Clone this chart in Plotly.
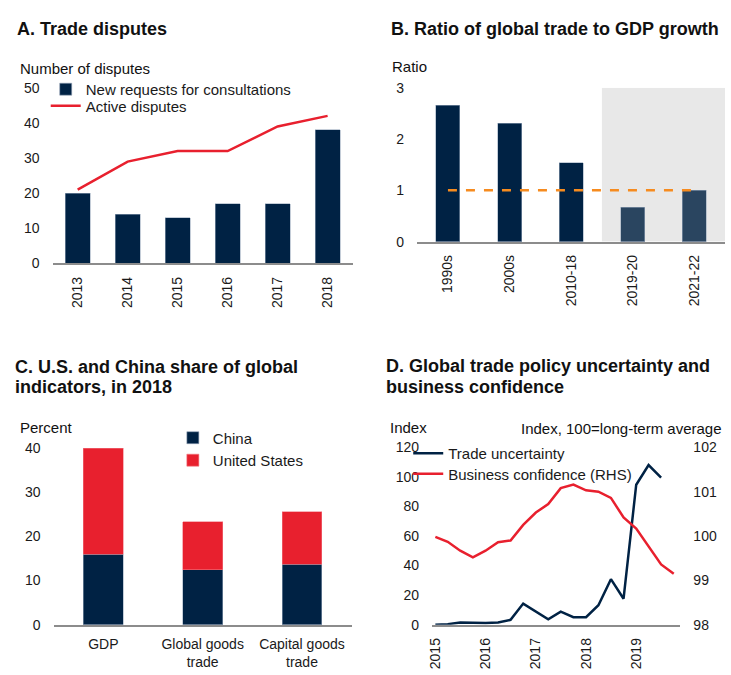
import plotly.graph_objects as go

# ---------------- data ----------------
# A. Trade disputes
dispute_years = ["2013", "2014", "2015", "2016", "2017", "2018"]
new_requests = [20, 14, 13, 17, 17, 38]
active_disputes = [21, 29, 32, 32, 39, 42]

# B. Ratio of global trade to GDP growth
periods = ["1990s", "2000s", "2010-18", "2019-20", "2021-22"]
trade_gdp_ratio = [2.66, 2.31, 1.54, 0.67, 1.0]
reference_ratio = [1, 1]

# C. U.S. and China share of global indicators, 2018
indicators = ["GDP", "Global goods<br>trade", "Capital goods<br>trade"]
china_share = [16.0, 12.5, 13.7]
us_share = [23.9, 10.8, 11.9]

# D. Trade policy uncertainty and business confidence (quarterly)
quarters = [
    "2015-01-01", "2015-04-01", "2015-07-01", "2015-10-01",
    "2016-01-01", "2016-04-01", "2016-07-01", "2016-10-01",
    "2017-01-01", "2017-04-01", "2017-07-01", "2017-10-01",
    "2018-01-01", "2018-04-01", "2018-07-01", "2018-10-01",
    "2019-01-01", "2019-04-01", "2019-07-01", "2019-10-01",
]
trade_uncertainty = [0, 0.4, 1.5, 1.3, 1.1, 1.5, 3.3, 14.3, 8.8, 3.7,
                     8.8, 5.1, 5.1, 13.2, 30.8, 17.6, 94.7, 108, 99.5]
business_confidence = [99.98, 99.87, 99.67, 99.52, 99.67, 99.86, 99.90, 100.25,
                       100.53, 100.72, 101.08, 101.16, 101.03, 101.0, 100.86,
                       100.42, 100.17, 99.76, 99.36, 99.15]
year_ticks = ["2015-01-01", "2016-01-01", "2017-01-01", "2018-01-01", "2019-01-01"]

# ---------------- styling ----------------
W, H = 731, 675

NAVY = "#002244"
SLATE = "#2a4560"
RED = "#e8202e"
ORANGE = "#f68b1f"
SHADE = "#e8e8e8"
AXIS = "#8c8c8c"
TXT = "#1a1a1a"
FONT = "Liberation Sans, Arial, sans-serif"


# layout positions below are given in pixels from the top-left corner
def px_x(v):
    return min(1.0, max(0.0, v / W))


def px_y(v):
    return min(1.0, max(0.0, 1 - v / H))


def xdom(l, r):
    return [px_x(l), px_x(r)]


def ydom(top, bottom):
    return [px_y(bottom), px_y(top)]


bar_line = dict(color="rgba(150,165,185,0.7)", width=0.8)

fig = go.Figure()

# A
fig.add_trace(go.Bar(x=dispute_years, y=new_requests, name="New requests for consultations",
                     marker=dict(color=NAVY, line=bar_line), width=0.5,
                     xaxis="x", yaxis="y", legend="legend"))
fig.add_trace(go.Scatter(x=dispute_years, y=active_disputes, name="Active disputes",
                         mode="lines", line=dict(color=RED, width=2.5),
                         xaxis="x", yaxis="y", legend="legend2"))

# B
fig.add_trace(go.Bar(x=periods, y=trade_gdp_ratio, showlegend=False,
                     marker=dict(color=[NAVY, NAVY, NAVY, SLATE, SLATE], line=bar_line),
                     width=0.39, xaxis="x2", yaxis="y2"))
fig.add_trace(go.Scatter(x=[periods[0], periods[-1]], y=reference_ratio, showlegend=False,
                         mode="lines", line=dict(color=ORANGE, width=2.5, dash="dash"),
                         xaxis="x2", yaxis="y2"))

# C
fig.add_trace(go.Bar(x=indicators, y=china_share, name="China",
                     marker=dict(color=NAVY, line=bar_line), width=0.4,
                     xaxis="x3", yaxis="y3", legend="legend3"))
fig.add_trace(go.Bar(x=indicators, y=us_share, name="United States",
                     marker=dict(color=RED, line=dict(color="rgba(240,120,130,0.7)", width=0.8)),
                     width=0.4, xaxis="x3", yaxis="y3", legend="legend4"))

# D
fig.add_trace(go.Scatter(x=quarters[:len(trade_uncertainty)], y=trade_uncertainty,
                         name="Trade uncertainty", mode="lines",
                         line=dict(color=NAVY, width=2.5),
                         xaxis="x4", yaxis="y4", legend="legend5"))
fig.add_trace(go.Scatter(x=quarters, y=business_confidence,
                         name="Business confidence (RHS)", mode="lines",
                         line=dict(color=RED, width=2.5),
                         xaxis="x4", yaxis="y5", legend="legend6"))

tick_font = dict(family=FONT, size=14, color=TXT)
xcommon = dict(showgrid=False, zeroline=False, showline=True, linecolor=AXIS, linewidth=1.5,
               ticks="", tickfont=tick_font, fixedrange=True)
ycommon = dict(showgrid=False, zeroline=False, showline=False, ticks="",
               tickfont=tick_font, ticklabelstandoff=12, fixedrange=True)


def legend_at(text_left, row_center):
    # one entry per legend box so every row can be placed on its own
    return dict(x=px_x(text_left - 40), y=px_y(row_center - 16.5),
                xanchor="left", yanchor="top", itemwidth=30,
                font=dict(family=FONT, size=15, color=TXT),
                bgcolor="rgba(0,0,0,0)", borderwidth=0)


fig.update_layout(
    width=W, height=H, margin=dict(l=0, r=0, t=0, b=0),
    paper_bgcolor="white", plot_bgcolor="white",
    font=dict(family=FONT, size=15, color=TXT),
    barmode="stack",
    xaxis=dict(domain=xdom(48, 350), anchor="y", tickangle=-90, range=[-0.5, 5.5],
               ticklabelstandoff=6, **xcommon),
    yaxis=dict(domain=ydom(81.7, 261.7), anchor="x", range=[0, 50], dtick=10, **ycommon),
    xaxis2=dict(domain=xdom(415, 725), anchor="y2", tickangle=-90, range=[-0.5, 4.5],
                ticklabelstandoff=6, **xcommon),
    yaxis2=dict(domain=ydom(81.7, 239.3), anchor="x2", range=[0, 3], dtick=1, **ycommon),
    xaxis3=dict(domain=xdom(49, 349), anchor="y3", range=[-0.5, 2.5],
                ticklabelstandoff=6, **xcommon),
    yaxis3=dict(domain=ydom(450.7, 631.7), anchor="x3", range=[0, 40], dtick=10, **ycommon),
    xaxis4=dict(domain=xdom(430, 680), anchor="y4", type="date", tickangle=-90,
                range=["2014-12-08", "2019-11-18"], tickvals=year_ticks, tickformat="%Y",
                ticklabelstandoff=6, **xcommon),
    yaxis4=dict(domain=ydom(450, 631.7), anchor="x4", range=[0, 120], dtick=20, **ycommon),
    yaxis5=dict(domain=ydom(450, 631.7), anchor="x4", overlaying="y4", side="right",
                range=[98, 102], dtick=1, **ycommon),
    legend=legend_at(81, 83),
    legend2=legend_at(81, 100),
    legend3=legend_at(209, 440),
    legend4=legend_at(209, 463),
    legend5=legend_at(446, 456),
    legend6=legend_at(446, 477),
    shapes=[dict(type="rect", xref="x2", yref="y2", x0=2.5, x1=4.5, y0=0, y1=3,
                 fillcolor=SHADE, line=dict(width=0), layer="below")],
)


# Panel titles and axis captions
def label(text, x, y, size=15, bold=False, anchor="left"):
    fig.add_annotation(text=f"<b>{text}</b>" if bold else text, x=px_x(x), y=px_y(y),
                       xref="paper", yref="paper", xanchor=anchor, yanchor="middle",
                       showarrow=False, font=dict(family=FONT, size=size, color="#111"))


label("A. Trade disputes", 10, 21, size=18, bold=True)
label("B. Ratio of global trade to GDP growth", 387, 21, size=18, bold=True)
label("C. U.S. and China share of global", 8, 368, size=18, bold=True)
label("indicators, in 2018", 8, 388, size=18, bold=True)
label("D. Global trade policy uncertainty and", 382, 367, size=18, bold=True)
label("business confidence", 382, 388, size=18, bold=True)

label("Number of disputes", 13, 62)
label("Ratio", 388, 60)
label("Percent", 13, 430)
label("Index", 386, 430)
label("Index, 100=long-term average", 724, 431, anchor="right")

fig.write_html("out.html")
